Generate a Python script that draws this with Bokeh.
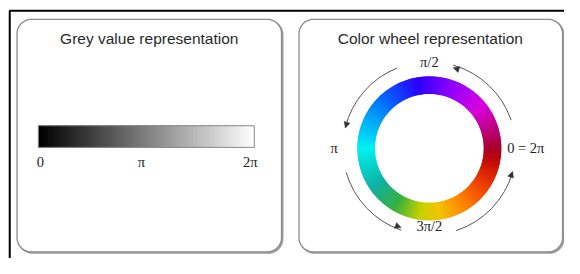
import numpy as np
from bokeh.plotting import figure
from bokeh.models import Range1d, ColumnDataSource, Arrow, NormalHead
from bokeh.core.properties import value
from bokeh.embed import file_html
from bokeh.resources import INLINE

# ---------------- data ----------------
panel_titles = ["Grey value representation", "Color wheel representation"]

grey_tick_phase = [0.0, np.pi, 2 * np.pi]
grey_tick_labels = ["0", "π", "2π"]

wheel_label_phase = [0.0, np.pi / 2, np.pi, 3 * np.pi / 2]
wheel_labels = ["0 = 2π", "π/2", "π", "3π/2"]

# colour wheel colormap stops (phase in degrees, counter-clockwise from the right)
wheel_stop_deg = [0, 20, 40, 70, 100, 135, 180, 215, 240, 262, 278, 300, 325, 350, 360]
wheel_stop_colors = ["#a8002c", "#c0008c", "#d800e0", "#9000ff", "#2a00ff", "#0070ff",
                     "#00f2f2", "#10b0a0", "#38b040", "#c8d000", "#f2c400", "#ff8800",
                     "#f04000", "#c00808", "#a8002c"]

# direction arrows (degrees), all counter-clockwise
arrow_start_deg = [19, 112, 196, 288]
arrow_end_deg = [74, 166, 251, 344]

# ---------------- helpers ----------------
W, H = 580, 274  # reference picture size; y data = H - picture y


def sy(y):
    return H - y


def hex2rgb(h):
    h = h.lstrip("#")
    return np.array([int(h[i:i + 2], 16) for i in (0, 2, 4)], dtype=float)


def interp_color(deg):
    stops = np.array(wheel_stop_deg, dtype=float)
    cols = np.array([hex2rgb(c) for c in wheel_stop_colors])
    r = np.interp(deg, stops, cols[:, 0])
    g = np.interp(deg, stops, cols[:, 1])
    b = np.interp(deg, stops, cols[:, 2])
    return "#%02x%02x%02x" % (int(round(r)), int(round(g)), int(round(b)))


def rounded_rect(x0, y0, x1, y1, r, n=12):
    xs, ys = [], []
    corners = [(x1 - r, y0 + r, -90, 0), (x1 - r, y1 - r, 0, 90),
               (x0 + r, y1 - r, 90, 180), (x0 + r, y0 + r, 180, 270)]
    for cx, cy, a0, a1 in corners:
        for a in np.linspace(np.radians(a0), np.radians(a1), n):
            xs.append(cx + r * np.cos(a))
            ys.append(sy(cy + r * np.sin(a)))
    return xs, ys


# ---------------- figure ----------------
p = figure(width=564, height=258, output_backend="svg", toolbar_location=None,
           x_range=Range1d(0, W), y_range=Range1d(0, H),
           x_axis_type=None, y_axis_type=None, min_border=0,
           background_fill_color="white", border_fill_color="white")
p.outline_line_color = None
p.grid.visible = False

# outer frame (black, left and top)
p.line(x=[9.5, 9.5, 600], y=[sy(280), sy(11), sy(11)], line_color="black", line_width=2)

# panels
panels = [(17, 20, 289, 267), (307, 20, 578, 267)]
for (x0, y0, x1, y1) in panels:
    xs, ys = rounded_rect(x0 + 1.2, y0 + 1.2, x1 + 1.2, y1 + 1.2, 15)
    p.patch(xs, ys, fill_color="#b0b0b0", line_color="#9a9a9a", line_width=1.5)
    xs, ys = rounded_rect(x0, y0, x1, y1, 15)
    p.patch(xs, ys, fill_color="white", line_color="#8c8c8c", line_width=1.3)

# titles
title_x = [153, 442]
p.text(x=title_x, y=[sy(40), sy(40)], text=panel_titles,
       text_font=value("Liberation Sans"), text_font_size="15.5px",
       text_color="#2a2a2a", text_align="center", text_baseline="middle")

# ---------------- grey bar ----------------
bx0, bx1, by0, by1 = 39, 261, 133, 156
n = 111
edges = np.linspace(0, 2 * np.pi, n + 1)
mid = (edges[:-1] + edges[1:]) / 2
to_x = lambda ph: bx0 + (bx1 - bx0) * np.asarray(ph) / (2 * np.pi)
greys = ["#%02x%02x%02x" % ((int(round(255 * m / (2 * np.pi))),) * 3) for m in mid]
rights = np.minimum(to_x(edges[1:]) + 1.5, bx1)
p.quad(left=to_x(edges[:-1]), right=rights,
       bottom=sy(by1), top=sy(by0), fill_color=greys, line_color=greys,
       line_width=0.6)
p.quad(left=[bx0], right=[bx1], bottom=[sy(by1)], top=[sy(by0)],
       fill_color=None, line_color="#8a8a8a", line_width=1)
p.text(x=list(to_x(grey_tick_phase) + np.array([2, -5, -4])), y=[sy(172)] * 3,
       text=grey_tick_labels, text_font=value("Liberation Serif"),
       text_font_size="14.5px", text_color="#222222",
       text_align="center", text_baseline="middle")

# ---------------- colour wheel ----------------
cx, cy = 441, sy(157)
r_in, r_out = 56, 74
deg = np.arange(0, 360, 1.0)
wcols = [interp_color(d + 0.5) for d in deg]
p.annular_wedge(x=cx, y=cy, inner_radius=r_in, outer_radius=r_out,
                start_angle=np.radians(deg), end_angle=np.radians(deg + 2.0),
                fill_color=wcols, line_color=None)

# labels around the wheel
lab_r = [80, 92, 98, 83]
lx = [cx + r * np.cos(a) for r, a in zip(lab_r, wheel_label_phase)]
ly = [cy + r * np.sin(a) for r, a in zip(lab_r, wheel_label_phase)]
p.text(x=lx, y=ly, text=wheel_labels, text_font=value("Liberation Serif"),
       text_font_size="14.5px", text_color="#222222",
       text_align=["left", "center", "center", "center"], text_baseline="middle")

# direction arcs with arrow heads
ar = 89
p.arc(x=cx, y=cy, radius=ar, start_angle=np.radians(arrow_start_deg),
      end_angle=np.radians(arrow_end_deg), line_color="#555555", line_width=1)
e = np.radians(arrow_end_deg)
s = e - np.radians(4)
asrc = ColumnDataSource(dict(xs=cx + ar * np.cos(s), ys=cy + ar * np.sin(s),
                             xe=cx + ar * np.cos(e), ye=cy + ar * np.sin(e)))
p.add_layout(Arrow(end=NormalHead(size=6, fill_color="#333333", line_color="#333333",
                                  line_width=0.5),
                   x_start="xs", y_start="ys", x_end="xe", y_end="ye",
                   line_alpha=0, source=asrc))

open("out.html", "w").write(file_html(p, INLINE))
